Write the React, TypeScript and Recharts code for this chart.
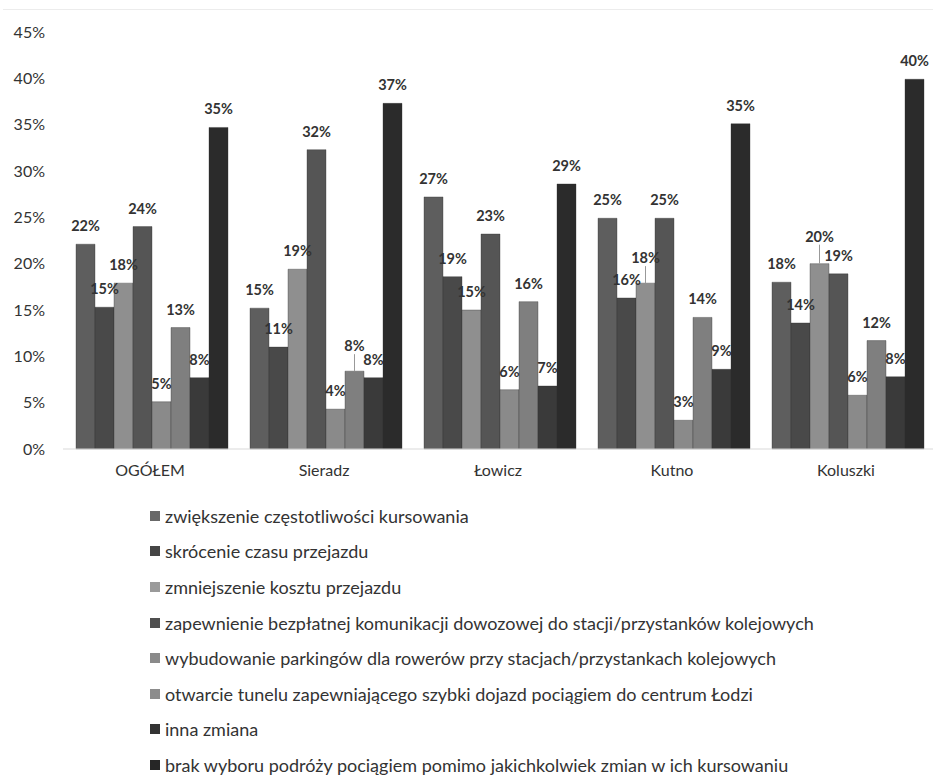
import { Bar, BarChart, LabelList, XAxis, YAxis } from 'recharts';

const categories = ['OGÓŁEM', 'Sieradz', 'Łowicz', 'Kutno', 'Koluszki'];

const seriesNames = [
  'zwiększenie częstotliwości kursowania',
  'skrócenie czasu przejazdu',
  'zmniejszenie kosztu przejazdu',
  'zapewnienie bezpłatnej komunikacji dowozowej do stacji/przystanków kolejowych',
  'wybudowanie parkingów dla rowerów przy stacjach/przystankach kolejowych',
  'otwarcie tunelu zapewniającego szybki dojazd pociągiem do centrum Łodzi',
  'inna zmiana',
  'brak wyboru podróży pociągiem pomimo jakichkolwiek zmian w ich kursowaniu',
];

// values in %, per category (OGÓŁEM, Sieradz, Łowicz, Kutno, Koluszki)
const czestotliwosc = [22.1, 15.2, 27.2, 24.9, 18.0];
const czasPrzejazdu = [15.3, 11.0, 18.6, 16.3, 13.6];
const kosztPrzejazdu = [17.9, 19.4, 15.0, 17.9, 20.0];
const komunikacjaDowozowa = [24.0, 32.3, 23.2, 24.9, 18.9];
const parkingiRowerowe = [5.1, 4.3, 6.4, 3.1, 5.8];
const tunel = [13.1, 8.4, 15.9, 14.2, 11.7];
const innaZmiana = [7.7, 7.7, 6.8, 8.6, 7.8];
const brakWyboru = [34.7, 37.3, 28.6, 35.1, 39.9];

const yTicks = [0, 5, 10, 15, 20, 25, 30, 35, 40, 45];

const seriesValues = [
  czestotliwosc,
  czasPrzejazdu,
  kosztPrzejazdu,
  komunikacjaDowozowa,
  parkingiRowerowe,
  tunel,
  innaZmiana,
  brakWyboru,
];

const colors = ['#5e5e5e', '#494949', '#8f8f8f', '#555555', '#8a8a8a', '#7f7f7f', '#3a3a3a', '#2b2b2b'];
const legendColors = ['#686868', '#454545', '#9a9a9a', '#4f4f4f', '#8a8a8a', '#8c8c8c', '#333333', '#262626'];

// labels moved up by hand in the original, with a small leader line
const labelLift: Record<string, number> = {
  '5-1': 7,
  '2-3': 7,
  '2-4': 9,
};

const data = categories.map((name, i) => {
  const row: Record<string, string | number> = { name };
  seriesValues.forEach((vals, s) => {
    row[`s${s}`] = vals[i];
  });
  return row;
});

const FONT = 'Lato, "Open Sans", sans-serif';

function makeLabel(s: number) {
  return (props: any) => {
    const { x, y, width, value, index } = props;
    const lift = labelLift[`${s}-${index}`] ?? 0;
    const cx = Number(x) + Number(width) / 2;
    const base = Number(y) - 13 - lift;
    return (
      <g>
        {lift > 0 && (
          <line
            x1={cx}
            x2={cx}
            y1={base + 3}
            y2={Number(y)}
            stroke="#999"
            strokeWidth={1}
          />
        )}
        <text
          x={cx}
          y={base}
          textAnchor="middle"
          fontFamily={FONT}
          fontWeight={700}
          fontSize={14.5}
          fill="#333"
        >
          {`${Math.round(Number(value))}%`}
        </text>
      </g>
    );
  };
}

export default function App() {
  return (
    <div
      style={{
        position: 'absolute',
        left: 0,
        top: 0,
        width: 933,
        height: 775,
        background: '#fff',
        fontFamily: FONT,
        overflow: 'hidden',
      }}
    >
      <div style={{ position: 'absolute', left: 3, top: 9, width: 930, height: 1, background: '#ececec' }} />
      <BarChart
        width={933}
        height={480}
        data={data}
        margin={{ top: 32, right: 0, left: 0, bottom: 1 }}
        barGap={0}
        barCategoryGap={13}
      >
        <XAxis
          dataKey="name"
          axisLine={{ stroke: '#d9d9d9' }}
          tickLine={false}
          tickMargin={10}
          tick={{ fontFamily: FONT, fontSize: 16, fill: '#333' }}
          height={30}
        />
        <YAxis
          width={63}
          domain={[0, 45]}
          ticks={yTicks}
          axisLine={false}
          tickLine={false}
          tickMargin={12}
          tickFormatter={(v) => `${v}%`}
          tick={{ fontFamily: FONT, fontSize: 16, fill: '#333' }}
        />
        {seriesNames.map((n, s) => (
          <Bar
            key={n}
            dataKey={`s${s}`}
            name={n}
            fill={colors[s]}
            stroke="#2f2f2f"
            strokeOpacity={0.35}
            isAnimationActive={false}
          >
            <LabelList dataKey={`s${s}`} content={makeLabel(s)} />
          </Bar>
        ))}
      </BarChart>
      <div style={{ position: 'absolute', left: 150, top: 498 }}>
        {seriesNames.map((n, s) => (
          <div
            key={n}
            style={{
              display: 'flex',
              alignItems: 'center',
              height: 35.6,
              fontSize: 18,
              color: '#333',
              whiteSpace: 'nowrap',
            }}
          >
            <span
              style={{
                display: 'inline-block',
                width: 10,
                height: 10,
                background: legendColors[s],
                marginRight: 5,
              }}
            />
            {n}
          </div>
        ))}
      </div>
    </div>
  );
}
